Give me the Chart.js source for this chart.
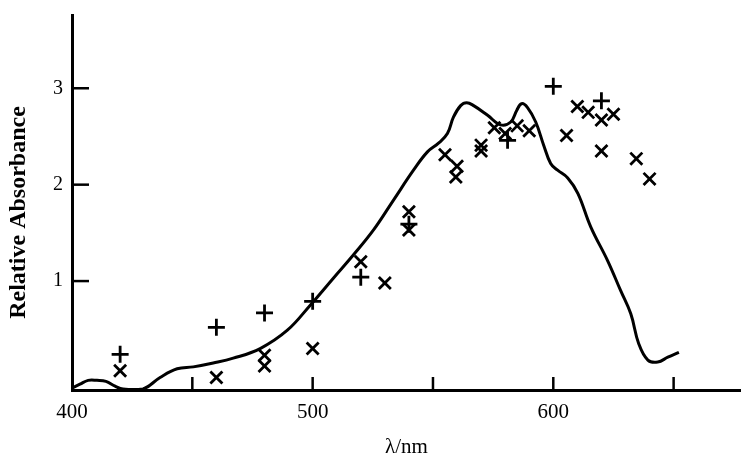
<!DOCTYPE html>
<html>
<head>
<meta charset="utf-8">
<script src="https://cdn.jsdelivr.net/npm/chart.js@4"></script>
<style>
  html, body { margin: 0; padding: 0; background: #fff; overflow: hidden; }
  #wrap { width: 741px; height: 457px; }
</style>
</head>
<body>
<div id="wrap"><canvas id="spectrum"></canvas></div>
<script>
// solid curve
const curveNm = [400, 403.3, 406.7, 410.4, 414.1, 417.9, 421.2, 429.5, 436.6, 443.7, 450.4, 458.7, 467, 478.2, 489.5, 499,
  508.6, 516.9, 525.3, 533.6, 541.9, 547.7, 552.3, 556, 558.5, 561.5, 564, 566.9, 572.7, 578.1, 582.3, 584.8, 586.8,
  589.3, 592.7, 596, 598.9, 601.8, 606, 610.2, 615.6, 622.6, 628, 632.2, 635.5, 639.3, 643.4, 647.6, 652.2];
const curveAbs = [-0.11, -0.07, -0.03, -0.03, -0.04, -0.09, -0.12, -0.12, 0.0, 0.09, 0.11, 0.15, 0.20, 0.30, 0.49, 0.75,
  1.03, 1.27, 1.53, 1.84, 2.15, 2.34, 2.43, 2.53, 2.70, 2.82, 2.85, 2.82, 2.72, 2.62, 2.65, 2.77, 2.84,
  2.80, 2.65, 2.41, 2.22, 2.15, 2.07, 1.91, 1.56, 1.21, 0.90, 0.66, 0.35, 0.18, 0.16, 0.21, 0.26];

// + points
const plusNm = [420, 460, 480, 500, 520, 540, 581, 600, 620];
const plusAbs = [0.24, 0.52, 0.67, 0.79, 1.04, 1.59, 2.46, 3.02, 2.87];

// x points
const crossNm = [420, 460, 480, 480, 500, 520, 530, 540, 540, 555, 560, 559.5, 570, 570, 575.5, 580, 585, 590,
  605.5, 610, 614.5, 620, 625, 620, 634.5, 640];
const crossAbs = [0.07, 0.00, 0.23, 0.12, 0.30, 1.20, 0.98, 1.72, 1.53, 2.31, 2.19, 2.08, 2.41, 2.35, 2.59, 2.53, 2.61, 2.56,
  2.51, 2.81, 2.75, 2.67, 2.73, 2.35, 2.27, 2.06];

const xLabels = [400, 500, 600];
const yLabels = [1, 2, 3];
const yTitle = 'Relative Absorbance';

const toPoints = (xs, ys) => xs.map((v, i) => ({ x: v, y: ys[i] }));

Chart.defaults.color = '#000';
Chart.defaults.font.family = "'Liberation Serif', 'DejaVu Serif', serif";

// tick marks point into the plot, like the printed figure;
// the y title sits a bit below the middle of the axis in the print
const innerTicks = {
  id: 'innerTicks',
  afterDraw(chart) {
    const { ctx, scales: { x, y } } = chart;
    ctx.save();
    ctx.strokeStyle = '#000';
    ctx.lineWidth = 2.5;
    x.ticks.forEach(t => {
      if (t.value <= x.min) return;
      const px = x.getPixelForValue(t.value);
      ctx.beginPath();
      ctx.moveTo(px, x.top);
      ctx.lineTo(px, x.top - 13);
      ctx.stroke();
    });
    y.ticks.forEach(t => {
      if (t.value <= 0) return;
      const py = y.getPixelForValue(t.value);
      ctx.beginPath();
      ctx.moveTo(y.right, py);
      ctx.lineTo(y.right + 17, py);
      ctx.stroke();
    });

    ctx.translate(y.left + 18.5, (y.top + y.bottom) / 2 + 10);
    ctx.rotate(-Math.PI / 2);
    ctx.fillStyle = '#000';
    ctx.font = "bold 24px 'Liberation Serif', 'DejaVu Serif', serif";
    ctx.textAlign = 'center';
    ctx.textBaseline = 'middle';
    ctx.fillText(yTitle, 0, 0);
    ctx.restore();
  }
};

new Chart(document.getElementById('spectrum'), {
  type: 'scatter',
  data: {
    datasets: [
      {
        label: 'curve',
        data: toPoints(curveNm, curveAbs),
        showLine: true,
        borderColor: '#000',
        borderWidth: 3,
        pointRadius: 0,
        tension: 0.4,
      },
      {
        label: 'plus',
        data: toPoints(plusNm, plusAbs),
        pointStyle: 'cross',
        pointRadius: 8.5,
        borderColor: '#000',
        borderWidth: 2.8,
      },
      {
        label: 'cross',
        data: toPoints(crossNm, crossAbs),
        pointStyle: 'crossRot',
        pointRadius: 8.5,
        borderColor: '#000',
        borderWidth: 2.8,
      },
    ],
  },
  options: {
    responsive: true,
    maintainAspectRatio: false,
    animation: false,
    layout: { autoPadding: false, padding: { top: 15, right: 0, left: 0, bottom: 0 } },
    plugins: {
      legend: { display: false },
      tooltip: { enabled: false },
    },
    scales: {
      x: {
        type: 'linear',
        min: 400,
        max: 678,
        afterFit: s => { s.height = 67; s.paddingRight = 0; s.paddingLeft = 0; },
        grid: { drawOnChartArea: false, drawTicks: false },
        border: { display: true, color: '#000', width: 3 },
        ticks: {
          stepSize: 50,
          includeBounds: false,
          padding: 10,
          maxRotation: 0,
          autoSkip: false,
          font: { size: 21 },
          callback: v => (xLabels.includes(v) ? v : ''),
        },
        title: {
          display: true,
          text: 'λ/nm',
          font: { size: 21 },
          padding: { top: 0, bottom: -3 },
        },
      },
      y: {
        type: 'linear',
        min: -0.13,
        max: 3.76,
        afterFit: s => { s.width = 72; s.paddingTop = 0; s.paddingBottom = 0; },
        grid: { drawOnChartArea: false, drawTicks: false },
        border: { display: true, color: '#000', width: 3 },
        ticks: {
          stepSize: 1,
          includeBounds: false,
          padding: 9,
          font: { size: 20 },
          callback: v => (yLabels.includes(v) ? v : ''),
        },
        title: { display: false },
      },
    },
  },
  plugins: [innerTicks],
});
</script>
</body>
</html>
